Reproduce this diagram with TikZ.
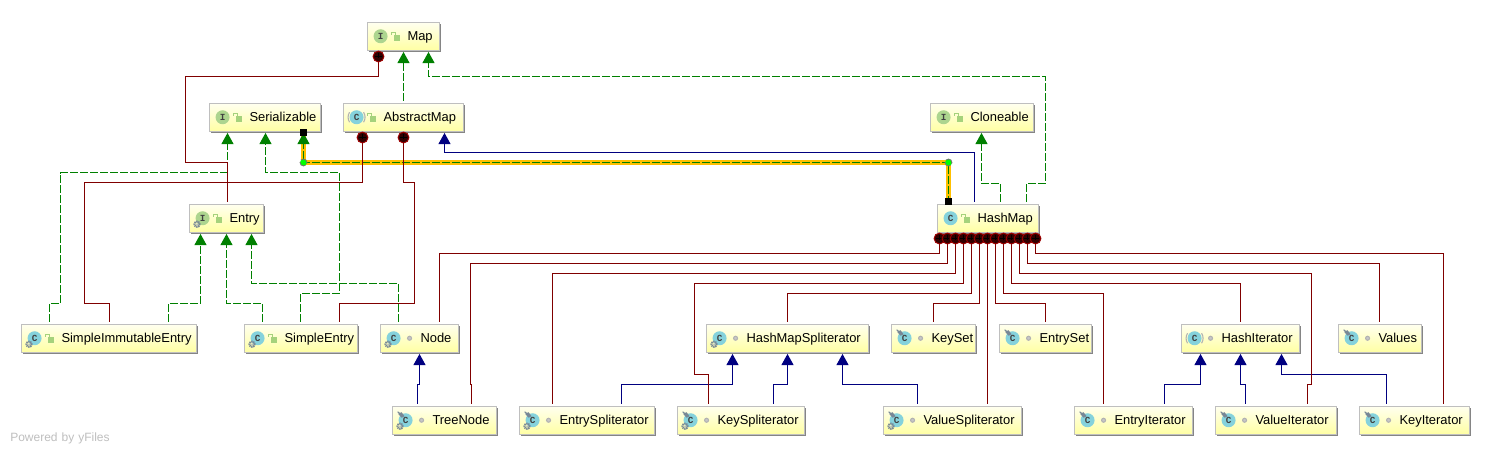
\documentclass[tikz,border=0pt]{standalone}
\usepackage{fontspec}
\setmainfont{Liberation Sans}
\newfontfamily\iconfont{Liberation Mono}
\usetikzlibrary{arrows.meta,shadows,calc}
\definecolor{redl}{HTML}{800000}
\definecolor{bluel}{HTML}{000080}
\definecolor{greenl}{HTML}{008000}
\definecolor{hilite}{HTML}{FFC000}
\definecolor{ifill}{HTML}{ADD58F}
\definecolor{cfill}{HTML}{85D2DC}
\definecolor{lockc}{HTML}{A5D27C}
\definecolor{gearc}{HTML}{788896}
\tikzset{
  umlnode/.style={rectangle,draw=black!25,line width=.8pt,inner xsep=0pt,inner ysep=0pt,
    top color=yellow!6,bottom color=yellow!36,shading angle=0,align=left,anchor=north west,
    xshift=-.7pt,yshift=.7pt,
    font=\fontsize{9.7pt}{11pt}\selectfont,
    general shadow={shadow xshift=1.1pt,shadow yshift=-1.1pt,fill=black!48}},
  assoc/.style={draw=redl,line width=.9pt,shorten >=1.5pt},
  inher/.style={draw=bluel,line width=.9pt,shorten >=.75pt,shorten <=1.5pt,
    -{Triangle[length=8.4pt,width=9pt]}},
  real/.style={draw=greenl,line width=.9pt,dash pattern=on 6pt off 1.5pt,
    shorten >=.75pt,shorten <=1.5pt,-{Triangle[length=8.4pt,width=9pt]}},
  cdot/.style={circle,draw=redl!75!red,fill=black!60!redl,line width=.7pt,minimum size=8.2pt,inner sep=0pt,
    path picture={\draw[black,line width=.6pt]
      ($(path picture bounding box.center)+(-3.6,0)$) -- ++(7.2,0)
      ($(path picture bounding box.center)+(0,-3.6)$) -- ++(0,7.2);}},
  gdot/.style={circle,draw=black!55,fill=green,line width=.6pt,minimum size=5.2pt,inner sep=0pt},
  bsq/.style={rectangle,fill=black,minimum size=4.6pt,inner sep=0pt},
  iconletter/.style={inner sep=0pt,font=\iconfont\bfseries\fontsize{7pt}{7pt}\selectfont,text=black!75},
}
\newcommand\umlbox[5]{% name, x1, x2, ytop, label
  \pgfmathsetmacro\Wpt{(#3-#2)*0.75}
  \node[umlnode,minimum width=\Wpt pt,minimum height=21.2pt,text width=\Wpt pt] (#1) at (#2,#4)
    {\hspace*{30.3pt}\rule[-4pt]{0pt}{14pt}#5};}
\newcommand\boxicon[5]{% name, kind I/C/A, gear, pin, vis l/d
  \begin{scope}[shift={(#1.west)}]
    \if I#2\fill[ifill] (14,0) circle (7);
      \node[iconletter] (#1-ic) at (14,0) {I};\fi
    \if C#2\fill[cfill] (14,0) circle (7);
      \node[iconletter] (#1-ic) at (14,0) {C};\fi
    \if A#2\fill[cfill] (14,0) circle (7);
      \draw[black!30,line width=.8pt] (7,-5) .. controls (5,-2) and (5,2) .. (7,5);
      \draw[black!30,line width=.8pt] (21,-5) .. controls (23,-2) and (23,2) .. (21,5);
      \node[iconletter] (#1-ic) at (14,0) {C};\fi
    \if 1#3\draw[gearc,line width=1.5pt,dash pattern=on .9pt off .5pt] (8.5,6) circle (2.6);
      \fill[gearc!60!white] (8.5,6) circle (1);\fi
    \if 1#4\fill[gearc] (6.5,-6.5) -- (10,-8) -- (13,-4) -- (10,-2.5) -- cycle;
      \draw[gearc,line width=.8pt] (8,-7) -- (6,-8.5);\fi
    \if l#5\fill[lockc] (27.5,-1) rectangle (33.5,4.5);
      \draw[lockc,line width=.7pt] (25,-1.5) -- (25,-4) -- (28.5,-4) -- (28.5,-1);\fi
    \if d#5\draw[black!30,fill=black!22,line width=.8pt] (30,0) circle (2);\fi
  \end{scope}}
\begin{document}
\begin{tikzpicture}[x=0.75pt,y=-0.75pt]
\useasboundingbox (0,0) rectangle (1492,455);
\fill[white] (0,0) rectangle (1492,455);
% boxes
\umlbox{map}{367.5}{439.5}{22.5}{Map}\boxicon{map}{I}{0}{0}{l}
\umlbox{serializable}{209.5}{320.5}{103.5}{Serializable}\boxicon{serializable}{I}{0}{0}{l}
\umlbox{abstractmap}{343.5}{463.5}{103.5}{AbstractMap}\boxicon{abstractmap}{A}{0}{0}{l}
\umlbox{cloneable}{930.5}{1033.5}{103.5}{Cloneable}\boxicon{cloneable}{I}{0}{0}{l}
\umlbox{entry}{189.5}{263.5}{204.5}{Entry}\boxicon{entry}{I}{1}{0}{l}
\umlbox{hashmap}{937.5}{1038.5}{204.5}{HashMap}\boxicon{hashmap}{C}{0}{0}{l}
\umlbox{simpleimm}{21.5}{196.5}{324.5}{SimpleImmutableEntry}\boxicon{simpleimm}{C}{1}{0}{l}
\umlbox{simpleentry}{244.5}{357.5}{324.5}{SimpleEntry}\boxicon{simpleentry}{C}{1}{0}{l}
\umlbox{nodeb}{380.5}{458.5}{324.5}{Node}\boxicon{nodeb}{C}{1}{0}{d}
\umlbox{hmspl}{706.5}{868.5}{324.5}{HashMapSpliterator}\boxicon{hmspl}{C}{1}{0}{d}
\umlbox{keyset}{891.5}{975.5}{324.5}{KeySet}\boxicon{keyset}{C}{0}{1}{d}
\umlbox{entryset}{999.5}{1091.5}{324.5}{EntrySet}\boxicon{entryset}{C}{0}{1}{d}
\umlbox{hashiter}{1181.5}{1299.5}{324.5}{HashIterator}\boxicon{hashiter}{A}{0}{0}{d}
\umlbox{values}{1338.5}{1421.5}{324.5}{Values}\boxicon{values}{C}{0}{1}{d}
\umlbox{treenode}{392.5}{496.5}{406.5}{TreeNode}\boxicon{treenode}{C}{1}{1}{d}
\umlbox{entryspl}{519.5}{654.5}{406.5}{EntrySpliterator}\boxicon{entryspl}{C}{1}{1}{d}
\umlbox{keyspl}{677.5}{804.5}{406.5}{KeySpliterator}\boxicon{keyspl}{C}{1}{1}{d}
\umlbox{valuespl}{883.5}{1021.5}{406.5}{ValueSpliterator}\boxicon{valuespl}{C}{1}{1}{d}
\umlbox{entryiter}{1074.5}{1192.5}{406.5}{EntryIterator}\boxicon{entryiter}{C}{0}{1}{d}
\umlbox{valueiter}{1215.5}{1336.5}{406.5}{ValueIterator}\boxicon{valueiter}{C}{0}{1}{d}
\umlbox{keyiter}{1359.5}{1469.5}{406.5}{KeyIterator}\boxicon{keyiter}{C}{0}{1}{d}
% realisations (left)
\draw[real] (49.5,0 |- simpleimm.north) -- (49.5,303.5) -- (60.5,303.5) -- (60.5,172.5) -- (227.5,172.5) -- (227.5,0 |- serializable.south);
\draw[real] (300.5,0 |- simpleentry.north) -- (300.5,293.5) -- (339.5,293.5) -- (339.5,172.5) -- (265.5,172.5) -- (265.5,0 |- serializable.south);
\draw[real] (168.5,0 |- simpleimm.north) -- (168.5,303.5) -- (200.5,303.5) -- (200.5,0 |- entry.south);
\draw[real] (262.5,0 |- simpleentry.north) -- (262.5,303.5) -- (226.5,303.5) -- (226.5,0 |- entry.south);
\draw[real] (398.5,0 |- nodeb.north) -- (398.5,283.5) -- (251.5,283.5) -- (251.5,0 |- entry.south);
\draw[real] (403.5,0 |- abstractmap.north) -- (403.5,0 |- map.south);
\draw[real] (1026.5,0 |- hashmap.north) -- (1026.5,183.5) -- (1045.5,183.5) -- (1045.5,76.5) -- (428.5,76.5) -- (428.5,0 |- map.south);
\draw[real] (1000.5,0 |- hashmap.north) -- (1000.5,183.5) -- (981.5,183.5) -- (981.5,0 |- cloneable.south);
% highlighted realisation
\draw[hilite,line width=3.3pt,line join=miter] (948.5,0 |- hashmap.north) -- (948.5,162.5) -- (303.5,162.5) -- (303.5,0 |- serializable.south);
\draw[real,shorten <=0pt] (948.5,0 |- hashmap.north) -- (948.5,162.5) node[gdot]{} -- (303.5,162.5) node[gdot]{} -- (303.5,0 |- serializable.south);
\node[bsq] (sqa) at (303.5,132.5) {};
\node[bsq] (sqb) at (948.5,201.5) {};
% inheritance
\draw[inher] (974.5,0 |- hashmap.north) -- (974.5,152.5) -- (444.5,152.5) -- (444.5,0 |- abstractmap.south);
\draw[inher] (417.5,0 |- treenode.north) -- (417.5,384.5) -- (419.5,384.5) -- (419.5,0 |- nodeb.south);
\draw[inher] (621.5,0 |- entryspl.north) -- (621.5,384.5) -- (732.5,384.5) -- (732.5,0 |- hmspl.south);
\draw[inher] (773.5,0 |- keyspl.north) -- (773.5,384.5) -- (787.5,384.5) -- (787.5,0 |- hmspl.south);
\draw[inher] (917.5,0 |- valuespl.north) -- (917.5,384.5) -- (842.5,384.5) -- (842.5,0 |- hmspl.south);
\draw[inher] (1164.5,0 |- entryiter.north) -- (1164.5,384.5) -- (1200.5,384.5) -- (1200.5,0 |- hashiter.south);
\draw[inher] (1245.5,0 |- valueiter.north) -- (1245.5,384.5) -- (1240.5,384.5) -- (1240.5,0 |- hashiter.south);
\draw[inher] (1386.5,0 |- keyiter.north) -- (1386.5,374.5) -- (1281.5,374.5) -- (1281.5,0 |- hashiter.south);
% inner-class associations
\draw[assoc] (378.5,0 |- map.south) -- (378.5,56.5) node[cdot]{} -- (378.5,76.5) -- (185.5,76.5) -- (185.5,162.5) -- (227.5,162.5) -- (227.5,0 |- entry.north);
\draw[assoc] (362.5,0 |- abstractmap.south) -- (362.5,137.5) node[cdot]{} -- (362.5,182.5) -- (84.5,182.5) -- (84.5,303.5) -- (109.5,303.5) -- (109.5,0 |- simpleimm.north);
\draw[assoc] (403.5,0 |- abstractmap.south) -- (403.5,137.5) node[cdot]{} -- (403.5,182.5) -- (414.5,182.5) -- (414.5,303.5) -- (339.5,303.5) -- (339.5,0 |- simpleentry.north);
\draw[assoc] (939.5,0 |- hashmap.south) -- (939.5,238.5) node[cdot]{} -- (939.5,253.5) -- (439.5,253.5) -- (439.5,0 |- nodeb.north);
\draw[assoc] (947.5,0 |- hashmap.south) -- (947.5,238.5) node[cdot]{} -- (947.5,263.5) -- (470.5,263.5) -- (470.5,384.5) -- (471.5,384.5) -- (471.5,0 |- treenode.north);
\draw[assoc] (955.5,0 |- hashmap.south) -- (955.5,238.5) node[cdot]{} -- (955.5,273.5) -- (552.5,273.5) -- (552.5,0 |- entryspl.north);
\draw[assoc] (963.5,0 |- hashmap.south) -- (963.5,238.5) node[cdot]{} -- (963.5,283.5) -- (694.5,283.5) -- (694.5,374.5) -- (708.5,374.5) -- (708.5,0 |- keyspl.north);
\draw[assoc] (971.5,0 |- hashmap.south) -- (971.5,238.5) node[cdot]{} -- (971.5,293.5) -- (787.5,293.5) -- (787.5,0 |- hmspl.north);
\draw[assoc] (979.5,0 |- hashmap.south) -- (979.5,238.5) node[cdot]{} -- (979.5,303.5) -- (933.5,303.5) -- (933.5,0 |- keyset.north);
\draw[assoc] (987.5,0 |- hashmap.south) -- (987.5,238.5) node[cdot]{} -- (987.5,0 |- valuespl.north);
\draw[assoc] (995.5,0 |- hashmap.south) -- (995.5,238.5) node[cdot]{} -- (995.5,303.5) -- (1045.5,303.5) -- (1045.5,0 |- entryset.north);
\draw[assoc] (1003.5,0 |- hashmap.south) -- (1003.5,238.5) node[cdot]{} -- (1003.5,293.5) -- (1103.5,293.5) -- (1103.5,0 |- entryiter.north);
\draw[assoc] (1011.5,0 |- hashmap.south) -- (1011.5,238.5) node[cdot]{} -- (1011.5,283.5) -- (1240.5,283.5) -- (1240.5,0 |- hashiter.north);
\draw[assoc] (1019.5,0 |- hashmap.south) -- (1019.5,238.5) node[cdot]{} -- (1019.5,273.5) -- (1311.5,273.5) -- (1311.5,384.5) -- (1307.5,384.5) -- (1307.5,0 |- valueiter.north);
\draw[assoc] (1027.5,0 |- hashmap.south) -- (1027.5,238.5) node[cdot]{} -- (1027.5,263.5) -- (1379.5,263.5) -- (1379.5,0 |- values.north);
\draw[assoc] (1035.5,0 |- hashmap.south) -- (1035.5,238.5) node[cdot]{} -- (1035.5,253.5) -- (1443.5,253.5) -- (1443.5,0 |- keyiter.north);
% watermark
\node[anchor=west,inner sep=0pt,text=black!25,font=\fontsize{9pt}{10pt}\selectfont,text width=99pt] (yfiles) at (10,438.5) {Powered by yFiles};
\end{tikzpicture}
\end{document}
